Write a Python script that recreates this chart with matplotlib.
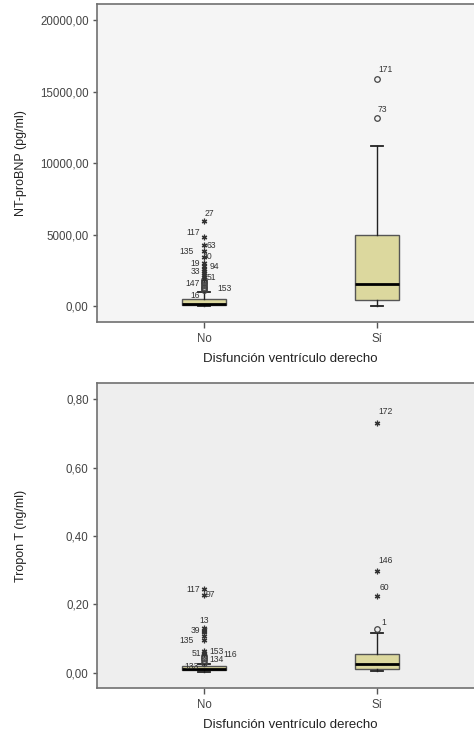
import matplotlib
matplotlib.use("Agg")
import matplotlib.pyplot as plt
from matplotlib.ticker import FuncFormatter

plt.rcParams['font.family'] = ['Liberation Sans', 'DejaVu Sans']

# Categorías
groups = ["No", "Sí"]
xlabel = "Disfunción ventrículo derecho"

# --- NT-proBNP (pg/ml) ---
bnp_whislo = [0, 30]
bnp_q1 = [50, 420]
bnp_med = [150, 1520]
bnp_q3 = [500, 5000]
bnp_whishi = [1000, 11200]
# atípicos (círculos) y extremos (asteriscos)
bnp_circ_no = [1100, 1259, 1350, 1450, 1608, 1700, 1800]
bnp_circ_no_lab = ["16", "153", "", "", "147", "", ""]
bnp_star_no = [1900, 2028, 2150, 2300, 2448, 2600, 2797, 3007, 3400, 3846, 4266, 4825, 5944]
bnp_star_no_lab = ["", "51", "", "", "33", "", "94", "19", "40", "135", "63", "117", "27"]
bnp_circ_si = [13150, 15900]
bnp_circ_si_lab = ["73", "171"]
bnp_star_si = []
bnp_star_si_lab = []

# --- Tropon T (ng/ml) ---
tnt_whislo = [0.003, 0.007]
tnt_q1 = [0.009, 0.012]
tnt_med = [0.012, 0.025]
tnt_q3 = [0.021, 0.055]
tnt_whishi = [0.027, 0.118]
tnt_circ_no = [0.030, 0.038, 0.044, 0.050]
tnt_circ_no_lab = ["133", "134", "", ""]
tnt_star_no = [0.055, 0.058, 0.064, 0.096, 0.108, 0.120, 0.123, 0.130, 0.228, 0.245]
tnt_star_no_lab = ["116", "51", "153", "135", "", "7", "39", "13", "97", "117"]
tnt_circ_si = [0.128]
tnt_circ_si_lab = ["1"]
tnt_star_si = [0.225, 0.299, 0.73]
tnt_star_si_lab = ["60", "146", "172"]

# desplazamiento de cada etiqueta (px) y alineación
label_pos = {
    "27": (1, 8, "left"), "117": (-4, 5, "right"), "63": (3, 0, "left"),
    "135": (-10, 0, "right"), "40": (-1, 1, "left"), "19": (-4, 0, "right"),
    "94": (6, 0, "left"), "33": (-4, 0, "right"), "51": (3, 0, "left"),
    "147": (-4, 0, "right"), "153": (13, 0, "left"), "16": (-4, -5, "right"),
    "73": (1, 8, "left"), "171": (1, 9, "left"),
    "97": (2, 0, "left"), "13": (-5, 8, "left"), "39": (-4, 0, "right"),
    "7": (-1, 0, "left"), "116": (19, 0, "left"), "134": (5, 0, "left"),
    "133": (-5, -4, "right"), "1": (4, 7, "left"), "60": (3, 8, "left"),
    "146": (1, 10, "left"), "172": (1, 12, "left"),
}
# en el panel de abajo algunas etiquetas cambian de lado
label_pos_tnt = {"51": (-3, 0, "right"), "153": (5, 0, "left"), "117": (-4, 0, "right")}

box_color = "#dcd89e"
edge = "#555555"


def comma_fmt(v, pos):
    return f"{v:.2f}".replace(".", ",")


def put_label(ax, x, v, lab, extra):
    if not lab:
        return
    dx, dy, ha = extra.get(lab, label_pos.get(lab, (3, 0, "left")))
    ax.annotate(lab, (x, v), xytext=(dx, dy), textcoords="offset pixels",
                ha=ha, va="center", fontsize=6.2, color="#333333")


def draw_panel(ax, whislo, q1, med, q3, whishi, circs, stars, ylim, yticks, ylabel, bg, extra):
    stats = []
    for i in range(2):
        stats.append(dict(whislo=whislo[i], q1=q1[i], med=med[i], q3=q3[i],
                          whishi=whishi[i], fliers=[]))
    ax.bxp(stats, positions=[1, 2], widths=0.25, patch_artist=True,
           showfliers=False, capwidths=0.065,
           boxprops=dict(facecolor=box_color, edgecolor=edge, linewidth=1.0),
           medianprops=dict(color="black", linewidth=2.0),
           whiskerprops=dict(color="#222222", linewidth=1.0),
           capprops=dict(color="#222222", linewidth=1.3))

    for i, (cv, cl) in enumerate(circs):
        ax.plot([i + 1] * len(cv), cv, linestyle="none", marker="o", markersize=4,
                markerfacecolor="none", markeredgecolor="#444444", markeredgewidth=0.9)
        for v, lab in zip(cv, cl):
            put_label(ax, i + 1, v, lab, extra)
    for i, (sv, sl) in enumerate(stars):
        ax.plot([i + 1] * len(sv), sv, linestyle="none", marker=(6, 2, 0), markersize=4,
                color="#333333", markeredgewidth=0.9)
        for v, lab in zip(sv, sl):
            put_label(ax, i + 1, v, lab, extra)

    ax.set_xlim(0.3815, 2.6185)
    ax.set_ylim(*ylim)
    ax.set_yticks(yticks)
    ax.yaxis.set_major_formatter(FuncFormatter(comma_fmt))
    ax.set_xticks([1, 2])
    ax.set_xticklabels(groups)
    ax.set_facecolor(bg)
    for s in ax.spines.values():
        s.set_color("#707070")
        s.set_linewidth(1.2)
    ax.tick_params(axis="y", length=3, width=1, color="#555555", labelsize=8.3,
                   labelcolor="#444444", pad=3)
    ax.tick_params(axis="x", length=4, width=1, color="#555555", labelsize=8.3,
                   labelcolor="#444444", pad=4)
    ax.set_ylabel(ylabel, fontsize=9, color="#222222")
    ax.yaxis.set_label_coords(-0.182, 0.5)
    ax.set_xlabel(xlabel, fontsize=9.5, color="#222222", labelpad=6)


fig = plt.figure(figsize=(4.74, 7.33), dpi=100)
ax1 = fig.add_axes([0.2046, 0.5607, 0.8165, 0.4338])
ax2 = fig.add_axes([0.2046, 0.0614, 0.8165, 0.4161])

draw_panel(ax1, bnp_whislo, bnp_q1, bnp_med, bnp_q3, bnp_whishi,
           [(bnp_circ_no, bnp_circ_no_lab), (bnp_circ_si, bnp_circ_si_lab)],
           [(bnp_star_no, bnp_star_no_lab), (bnp_star_si, bnp_star_si_lab)],
           (-1119, 21119), [0, 5000, 10000, 15000, 20000], "NT-proBNP (pg/ml)",
           "#f5f5f5", {})

draw_panel(ax2, tnt_whislo, tnt_q1, tnt_med, tnt_q3, tnt_whishi,
           [(tnt_circ_no, tnt_circ_no_lab), (tnt_circ_si, tnt_circ_si_lab)],
           [(tnt_star_no, tnt_star_no_lab), (tnt_star_si, tnt_star_si_lab)],
           (-0.044, 0.847), [0.0, 0.2, 0.4, 0.6, 0.8], "Tropon T (ng/ml)",
           "#eeeeee", label_pos_tnt)

fig.savefig("out.png", dpi=100)
